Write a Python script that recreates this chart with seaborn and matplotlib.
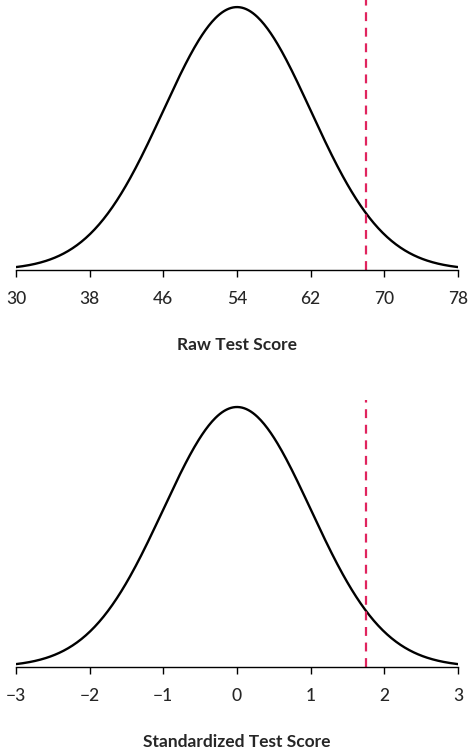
import numpy as np
import pandas as pd
import matplotlib
matplotlib.use("Agg")
import matplotlib.pyplot as plt
import seaborn as sns

sns.set_style("white")
plt.rcParams['font.family'] = ['Lato', 'DejaVu Sans']

raw_mean = 54
raw_sd = 8
raw_ticks = [30, 38, 46, 54, 62, 70, 78]
raw_cut = 68
std_ticks = [-3, -2, -1, 0, 1, 2, 3]
std_tick_labels = ['\u22123', '\u22122', '\u22121', '0', '1', '2', '3']
std_cut = 1.75


def normal_curve(mean, sd, lo, hi):
    x = np.linspace(lo, hi, 400)
    y = np.exp(-0.5 * ((x - mean) / sd) ** 2) / (sd * np.sqrt(2 * np.pi))
    return pd.DataFrame({'x': x, 'y': y})


fig = plt.figure(figsize=(4.74, 7.52), dpi=100)
ax1 = fig.add_axes([16/474, 1 - 270/752, 442/474, 270/752])
ax2 = fig.add_axes([16/474, 1 - 667/752, 442/474, 267/752])

panels = [
    (ax1, raw_mean, raw_sd, raw_ticks, [str(t) for t in raw_ticks], raw_cut, 'Raw Test Score'),
    (ax2, 0, 1, std_ticks, std_tick_labels, std_cut, 'Standardized Test Score'),
]

for ax, m, s, ticks, labels, cut, xlabel in panels:
    df = normal_curve(m, s, ticks[0], ticks[-1])
    sns.lineplot(data=df, x='x', y='y', ax=ax, color='black', linewidth=1.7)
    peak = df['y'].max()
    ax.set_ylim(0, peak * 1.027)
    ax.set_xlim(ticks[0], ticks[-1])
    ax.axvline(cut, color='#e0245e', linestyle=(0, (4, 3)), linewidth=1.6)
    ax.set_xticks(ticks)
    ax.set_xticklabels(labels, fontsize=12.5, fontweight='medium')
    ax.set_yticks([])
    ax.set_ylabel('')
    ax.set_xlabel(xlabel, fontsize=12.5, fontweight='bold', labelpad=22)
    for side in ['top', 'right', 'left']:
        ax.spines[side].set_visible(False)
    ax.spines['bottom'].set_color('black')
    ax.spines['bottom'].set_linewidth(1.0)
    ax.tick_params(axis='x', length=5, width=1, color='black', direction='out', bottom=True, pad=10)

fig.savefig('out.png', dpi=100)
